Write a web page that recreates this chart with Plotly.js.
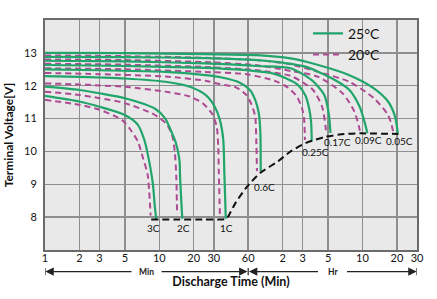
<!DOCTYPE html>
<html>
<head>
<meta charset="utf-8">
<script src="https://cdn.plot.ly/plotly-3.0.1.min.js"></script>
<style>
  html, body { margin: 0; padding: 0; background: #ffffff; }
  #chart { width: 437px; height: 299px; }
</style>
</head>
<body>
<div id="chart"></div>
<script>
// Discharge rates, one curve per rate and temperature
const rates = ['0.05C', '0.09C', '0.17C', '0.25C', '0.6C', '1C', '2C', '3C'];

// 25°C: discharge time (min) and terminal voltage (V)
const t25_005 = [1, 5, 25, 72, 141, 246, 461, 755, 1004, 1157, 1222];
const v25_005 = [13.0, 12.99, 12.96, 12.93, 12.83, 12.63, 12.32, 11.92, 11.52, 11.06, 10.55];
const t25_009 = [1, 5, 25, 72, 121, 190, 326, 461, 567, 630, 662];
const v25_009 = [12.88, 12.87, 12.84, 12.78, 12.7, 12.58, 12.22, 11.87, 11.36, 10.86, 10.55];
const t25_017 = [1, 5, 25, 72, 141, 216, 278, 304, 315];
const v25_017 = [12.76, 12.74, 12.68, 12.6, 12.53, 12.17, 11.72, 11.16, 10.56];
const t25_025 = [1, 5, 25, 58, 102, 160, 190, 205, 213, 216];
const v25_025 = [12.63, 12.6, 12.54, 12.47, 12.36, 12.05, 11.7, 11.3, 10.9, 10.3];
const t25_06 = [1, 3, 11.3, 25.4, 35.2, 50.2, 62.1, 69.1, 74.3, 76.7, 77.2];
const v25_06 = [12.5, 12.47, 12.42, 12.32, 12.25, 12.1, 11.87, 11.57, 11.16, 10.56, 9.4];
const t25_1 = [1, 2, 3, 5, 11.3, 18.5, 25.4, 30.6, 33.9, 36.3, 37.1, 37.7, 38.2];
const v25_1 = [12.29, 12.27, 12.25, 12.22, 12.12, 11.97, 11.72, 11.36, 10.96, 10.36, 9.35, 8.6, 7.95];
const t25_2 = [1, 2, 3, 5, 9.2, 11.3, 12.2, 14.0, 15.0, 15.2, 15.5, 15.9];
const v25_2 = [11.97, 11.87, 11.77, 11.62, 11.3, 11.0, 10.76, 10.25, 9.75, 9.24, 8.64, 7.95];
const t25_3 = [1, 2, 3, 5, 6.5, 7.4, 8.0, 8.8, 9.1, 9.4];
const v25_3 = [11.69, 11.52, 11.36, 11.11, 10.81, 10.35, 9.85, 9.0, 8.4, 7.93];

// 20°C: discharge time (min) and terminal voltage (V)
const t20_005 = [1, 5, 25, 72, 141, 246, 461, 755, 1004, 1080, 1120];
const v20_005 = [12.92, 12.9, 12.85, 12.78, 12.65, 12.42, 12.12, 11.62, 11.11, 10.8, 10.55];
const t20_009 = [1, 5, 25, 72, 141, 246, 401, 510, 567, 573];
const v20_009 = [12.8, 12.78, 12.72, 12.62, 12.45, 12.27, 11.77, 11.21, 10.66, 10.55];
const t20_017 = [1, 5, 25, 72, 141, 180, 222, 266, 285, 288];
const v20_017 = [12.67, 12.64, 12.57, 12.47, 12.3, 12.1, 11.87, 11.36, 10.76, 10.55];
const t20_025 = [1, 5, 25, 58, 102, 133, 160, 178, 185, 188];
const v20_025 = [12.53, 12.5, 12.42, 12.35, 12.15, 11.95, 11.67, 11.3, 11.0, 10.35];
const t20_06 = [1, 3, 11.3, 25.4, 33.8, 46.8, 57.7, 64.3, 69.1, 70.6, 71.6];
const v20_06 = [12.39, 12.35, 12.28, 12.15, 12.05, 11.95, 11.72, 11.42, 11.06, 10.35, 9.4];
const t20_1 = [1, 2, 3, 5, 11.3, 18.5, 23.9, 28.8, 31.8, 32.8, 33.2, 33.9];
const v20_1 = [12.07, 12.04, 12.01, 11.97, 11.82, 11.67, 11.47, 11.16, 10.76, 10.15, 9.35, 8.1];
const t20_2 = [1, 2, 3, 5, 8.6, 10.2, 11.8, 13.05, 13.7, 14.1, 14.3];
const v20_2 = [11.82, 11.72, 11.62, 11.47, 11.16, 11.0, 10.8, 10.45, 9.95, 9.2, 8.15];
const t20_3 = [1, 2, 3, 4.7, 5.6, 6.5, 7.2, 7.9, 8.4];
const v20_3 = [11.57, 11.42, 11.27, 10.96, 10.66, 10.3, 9.8, 9.3, 8.05];

// Final (cut-off) voltage line across the rates
const tCutoff = [8.5, 15, 25, 35, 38.7, 42, 46.8, 57.7, 76.7, 109.5, 141, 189.5, 288, 416, 567, 1238];
const vCutoff = [7.93, 7.93, 7.93, 7.93, 7.95, 8.15, 8.45, 8.9, 9.35, 9.7, 10.0, 10.25, 10.45, 10.53, 10.55, 10.53];

// Axis ticks: minutes up to 60, then hours
const xTickVals = [1, 2, 3, 5, 10, 20, 30, 60, 120, 180, 300, 600, 1200, 1800];
const xTickText = ['1', '2', '3', '5', '10', '20', '30', '60', '2', '3', '5', '10', '20', '30'];
const yTickVals = [8, 9, 10, 11, 12, 13];

const series25 = [[t25_005, v25_005], [t25_009, v25_009], [t25_017, v25_017], [t25_025, v25_025],
                  [t25_06, v25_06], [t25_1, v25_1], [t25_2, v25_2], [t25_3, v25_3]];
const series20 = [[t20_005, v20_005], [t20_009, v20_009], [t20_017, v20_017], [t20_025, v20_025],
                  [t20_06, v20_06], [t20_1, v20_1], [t20_2, v20_2], [t20_3, v20_3]];

const GREEN = '#21a56a';
const PINK = '#ad4a94';
const FONT = 'Lato, "Open Sans", sans-serif';
const INK = '#111111';

const traces = [];
series20.forEach(function (s, i) {
  traces.push({
    x: s[0], y: s[1], type: 'scatter', mode: 'lines',
    name: '20°C', legendgroup: 't20', showlegend: i === 0, legendrank: 2,
    line: { color: PINK, width: 2, dash: '6px,4px', shape: 'spline', smoothing: 0.7 },
    hoverinfo: 'skip'
  });
});
series25.forEach(function (s, i) {
  traces.push({
    x: s[0], y: s[1], type: 'scatter', mode: 'lines',
    name: '25°C', legendgroup: 't25', showlegend: i === 0, legendrank: 1,
    line: { color: GREEN, width: 2.2, shape: 'spline', smoothing: 0.7 },
    hoverinfo: 'skip'
  });
});
traces.push({
  x: tCutoff, y: vCutoff, type: 'scatter', mode: 'lines', showlegend: false,
  line: { color: INK, width: 2, dash: '7px,4px', shape: 'spline', smoothing: 0.6 },
  hoverinfo: 'skip'
});

// Rate labels sit just below the end of each 25°C curve
const labelShift = [[2, -8], [1, -7], [7, -9], [4, -10], [4, -16], [1, -9], [1, -9], [-3, -9]];
const annotations = rates.map(function (r, i) {
  const t = series25[i][0], v = series25[i][1];
  return {
    x: Math.log10(t[t.length - 1]), y: v[v.length - 1], xref: 'x', yref: 'y',
    text: r, showarrow: false, xshift: labelShift[i][0], yshift: labelShift[i][1],
    font: { family: FONT, size: 10, color: INK }
  };
});

// Minute / hour range arrows under the tick labels
const arrowY = -0.094;
const L60 = Math.log10(60), L1800 = Math.log10(1800);
function arrow(tip, tail) {
  return {
    x: tip, y: arrowY, xref: 'x', yref: 'paper', ax: tail, ay: 0, axref: 'x', ayref: 'pixel',
    text: '', showarrow: true, arrowhead: 2, arrowsize: 1.4, arrowwidth: 1.2, arrowcolor: '#222222',
    standoff: 0, startstandoff: 0
  };
}
annotations.push(arrow(0.003, 0.77));
annotations.push(arrow(L60 - 0.006, 1.007));
annotations.push(arrow(L60 + 0.006, 2.402));
annotations.push(arrow(L1800 - 0.003, 2.63));
annotations.push({ x: L60 / 2, y: arrowY, xref: 'x', yref: 'paper', yanchor: 'middle', text: 'Min', showarrow: false,
  font: { family: FONT, size: 8.5, weight: 'bold', color: '#222222' } });
annotations.push({ x: (L60 + L1800) / 2, y: arrowY, xref: 'x', yref: 'paper', yanchor: 'middle', text: 'Hr', showarrow: false,
  font: { family: FONT, size: 8.5, weight: 'bold', color: '#222222' } });

const shapes = [1, 60, 1800].map(function (t) {
  return { type: 'line', xref: 'x', yref: 'paper', x0: t, x1: t, y0: arrowY + 0.016, y1: arrowY - 0.016,
           line: { color: '#222222', width: 1.2 } };
});

const layout = {
  width: 437, height: 299,
  margin: { l: 45, r: 20, t: 20, b: 49 },
  paper_bgcolor: '#ffffff', plot_bgcolor: '#e9e9e9',
  font: { family: FONT, size: 11, color: INK },
  xaxis: {
    type: 'log', range: [0, L1800],
    tickmode: 'array', tickvals: xTickVals, ticktext: xTickText,
    showgrid: true, gridcolor: '#8f8f8f', gridwidth: 1.5,
    showline: true, mirror: true, linecolor: '#6b6b6b', linewidth: 2,
    ticks: '', zeroline: false, fixedrange: true, ticklabelstandoff: -3,
    tickfont: { family: FONT, size: 11, color: INK },
    title: { text: 'Discharge Time (Min)', font: { family: FONT, size: 12.5, weight: 'bold', color: INK }, standoff: 14 }
  },
  yaxis: {
    range: [7, 14], tickmode: 'array', tickvals: yTickVals,
    showgrid: true, gridcolor: '#8f8f8f', gridwidth: 1.5,
    showline: true, mirror: true, linecolor: '#6b6b6b', linewidth: 2,
    ticks: '', zeroline: false, fixedrange: true, ticklabelstandoff: 4,
    tickfont: { family: FONT, size: 11, color: INK },
    title: { text: 'Terminal Voltage[V]', font: { family: FONT, size: 12, weight: 'bold', color: INK }, standoff: 8 }
  },
  showlegend: true,
  legend: {
    x: 0.707, y: 1.01, xanchor: 'left', yanchor: 'top',
    bgcolor: 'rgba(0,0,0,0)', borderwidth: 0,
    font: { family: FONT, size: 14, color: INK },
    tracegroupgap: 0, traceorder: 'normal'
  },
  annotations: annotations,
  shapes: shapes
};

Plotly.newPlot('chart', traces, layout, { staticPlot: true, displayModeBar: false });
</script>
</body>
</html>
